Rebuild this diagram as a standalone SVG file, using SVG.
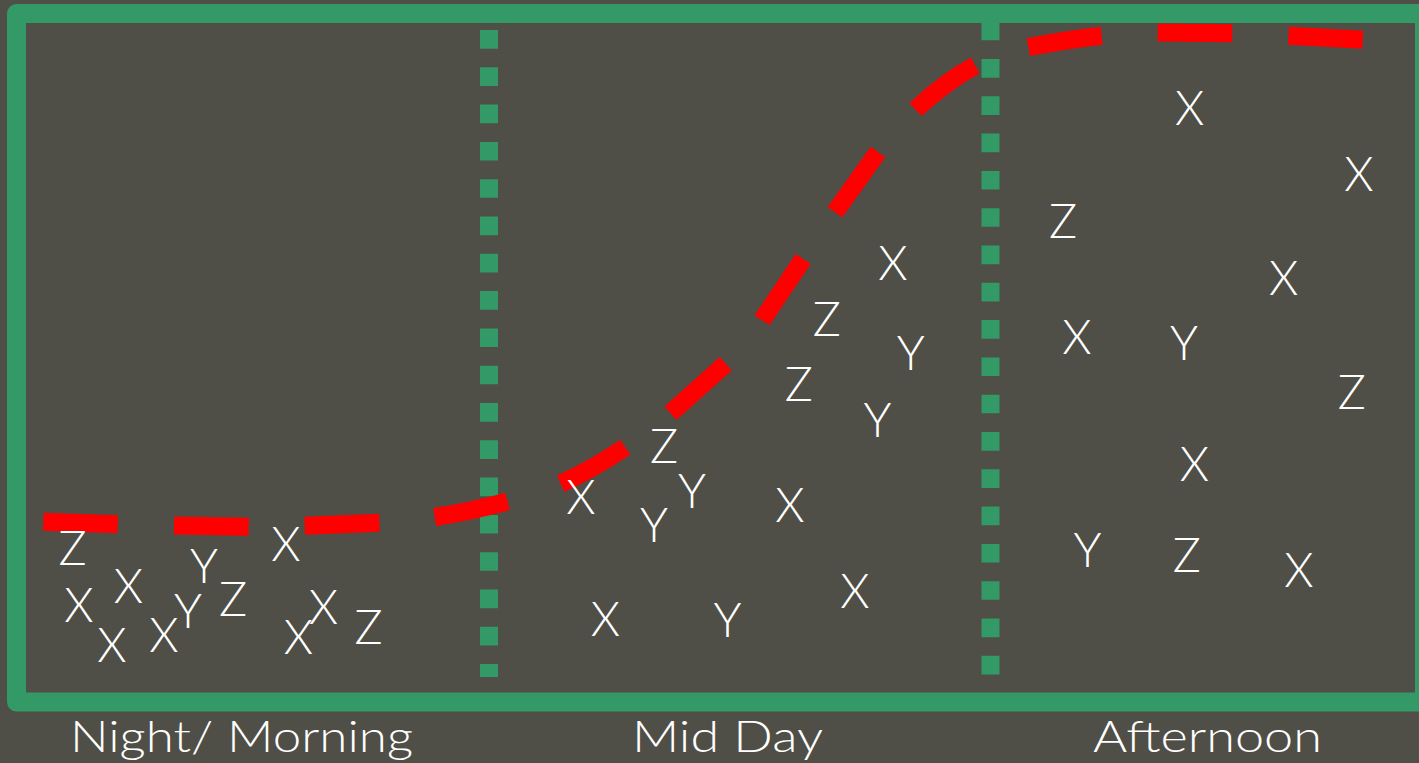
<svg xmlns="http://www.w3.org/2000/svg" width="1419" height="763" viewBox="0 0 1419 763">
  <style>
    .bg { fill: #4F4F47; }
    .frame { fill: none; stroke: #339966; stroke-width: 19; stroke-linejoin: round; }
    .divider { fill: none; stroke: #339966; stroke-width: 18; stroke-dasharray: 18.65 18.65; }
    .curve { fill: none; stroke: #FF0000; stroke-width: 18; stroke-linecap: butt; }
    .pt { font-family: "Lato", "Liberation Sans", sans-serif; font-weight: 300; font-size: 47px; fill: #FFFFFF; text-anchor: middle; }
    .label { font-family: "Lato", "Liberation Sans", sans-serif; font-weight: 300; font-size: 44px; fill: #FFFFFF; text-anchor: middle; }
  </style>
  <rect class="bg" x="0" y="0" width="1419" height="763"/>

  <g id="frame">
    <rect class="frame" x="16.5" y="13.5" width="1408" height="688.5"/>
  </g>

  <g id="dividers">
    <line class="divider" x1="489" y1="30" x2="489" y2="677"/>
    <line class="divider" x1="990.5" y1="21.7" x2="990.5" y2="675"/>
  </g>

  <g id="curve">
    <path class="curve" d="M43.3,521.7 L117.7,524.2 M174,525.5 L248.7,526.7 M304.7,525.8 L379.3,522.8 M434.7,517 Q471,511.4 507.5,501.3 M560.8,483.7 Q590,470.6 625.3,447.3 M670.5,413.3 L725.7,363.8 M762,320.3 L803.2,259 M834.9,212.2 L878,152 M915.5,109.5 Q945.6,81.5 975.2,65.5 M1028.3,47.2 Q1062,40.5 1101.7,35.8 M1157.7,32.5 L1232.3,33.3 M1288.5,35.7 L1362.8,39.8"/>
  </g>

  <g id="night-points">
    <text class="pt" x="72.5" y="565">Z</text>
    <text class="pt" x="204" y="583">Y</text>
    <text class="pt" x="286" y="561">X</text>
    <text class="pt" x="79" y="622">X</text>
    <text class="pt" x="128.5" y="603">X</text>
    <text class="pt" x="112" y="662">X</text>
    <text class="pt" x="164" y="652">X</text>
    <text class="pt" x="188" y="628">Y</text>
    <text class="pt" x="233" y="616">Z</text>
    <text class="pt" x="298.5" y="654">X</text>
    <text class="pt" x="323.5" y="624">X</text>
    <text class="pt" x="368.5" y="644">Z</text>
  </g>

  <g id="midday-points">
    <text class="pt" x="892.8" y="280">X</text>
    <text class="pt" x="826.7" y="336">Z</text>
    <text class="pt" x="910.8" y="370">Y</text>
    <text class="pt" x="798.8" y="401">Z</text>
    <text class="pt" x="877.5" y="436.7">Y</text>
    <text class="pt" x="664" y="463">Z</text>
    <text class="pt" x="581" y="514">X</text>
    <text class="pt" x="692" y="508">Y</text>
    <text class="pt" x="654" y="542">Y</text>
    <text class="pt" x="790" y="522">X</text>
    <text class="pt" x="855" y="608">X</text>
    <text class="pt" x="605.5" y="636">X</text>
    <text class="pt" x="727.5" y="637">Y</text>
  </g>

  <g id="afternoon-points">
    <text class="pt" x="1189.7" y="125">X</text>
    <text class="pt" x="1359" y="190.7">X</text>
    <text class="pt" x="1063" y="238">Z</text>
    <text class="pt" x="1283.7" y="295">X</text>
    <text class="pt" x="1077" y="354">X</text>
    <text class="pt" x="1184" y="360">Y</text>
    <text class="pt" x="1351.7" y="409">Z</text>
    <text class="pt" x="1194.5" y="481">X</text>
    <text class="pt" x="1087.5" y="566.7">Y</text>
    <text class="pt" x="1186.7" y="571.7">Z</text>
    <text class="pt" x="1298.8" y="587">X</text>
  </g>

  <g id="labels">
    <text class="label" x="241.5" y="752" textLength="343" lengthAdjust="spacingAndGlyphs">Night/ Morning</text>
    <text class="label" x="727.5" y="752" textLength="191" lengthAdjust="spacingAndGlyphs">Mid Day</text>
    <text class="label" x="1207.5" y="752" textLength="229" lengthAdjust="spacingAndGlyphs">Afternoon</text>
  </g>
</svg>
